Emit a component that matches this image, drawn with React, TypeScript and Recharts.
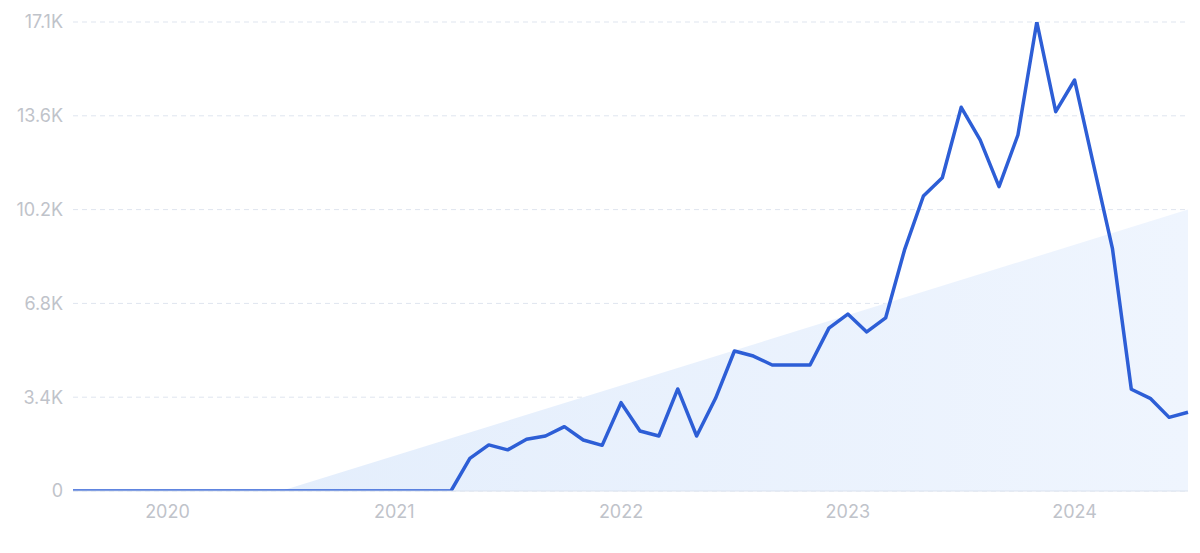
import React from 'react';
import {
  ComposedChart,
  Line,
  Area,
  XAxis,
  YAxis,
  CartesianGrid,
} from 'recharts';

// monthly points, Aug 2019 .. Jul 2024
const months = [
  '2019-08', '2019-09', '2019-10', '2019-11', '2019-12',
  '2020-01', '2020-02', '2020-03', '2020-04', '2020-05', '2020-06',
  '2020-07', '2020-08', '2020-09', '2020-10', '2020-11', '2020-12',
  '2021-01', '2021-02', '2021-03', '2021-04', '2021-05', '2021-06',
  '2021-07', '2021-08', '2021-09', '2021-10', '2021-11', '2021-12',
  '2022-01', '2022-02', '2022-03', '2022-04', '2022-05', '2022-06',
  '2022-07', '2022-08', '2022-09', '2022-10', '2022-11', '2022-12',
  '2023-01', '2023-02', '2023-03', '2023-04', '2023-05', '2023-06',
  '2023-07', '2023-08', '2023-09', '2023-10', '2023-11', '2023-12',
  '2024-01', '2024-02', '2024-03', '2024-04', '2024-05', '2024-06',
  '2024-07',
];

const searches = [
  0, 0, 0, 0, 0,
  0, 0, 0, 0, 0, 0,
  0, 0, 0, 0, 0, 0,
  0, 0, 0, 0, 1190, 1680,
  1500, 1885, 2005, 2345, 1860, 1665,
  3220, 2190, 2005, 3720, 2005, 3380,
  5105, 4920, 4595, 4595, 4595, 5940,
  6450, 5800, 6310, 8790, 10755, 11420,
  13990, 12800, 11095, 12980, 17100, 13830,
  14985, 11900, 8850, 3710, 3380, 2685,
  2870,
];

// trend line endpoints (null elsewhere, joined with connectNulls)
const trendStartMonth = '2020-07';
const trendStartValue = 0;
const trendEndMonth = '2024-07';
const trendEndValue = 10260;

const yTicks = [0, 3420, 6840, 10260, 13680, 17100];
const yTickLabels = ['0', '3.4K', '6.8K', '10.2K', '13.6K', '17.1K'];
const xTicks = ['2020-01', '2021-01', '2022-01', '2023-01', '2024-01'];
const xTickLabels = ['2020', '2021', '2022', '2023', '2024'];

const data = months.map((m, i) => ({
  month: m,
  value: searches[i],
  trend:
    m === trendStartMonth ? trendStartValue : m === trendEndMonth ? trendEndValue : null,
}));

const tickStyle = { fill: '#bfc3ca', fontSize: 18, fontFamily: 'Inter, sans-serif' };

export default function App() {
  return (
    <div style={{ position: 'absolute', left: 0, top: 0, width: 1200, height: 553, background: '#fff' }}>
      <ComposedChart
        width={1200}
        height={553}
        data={data}
        margin={{ top: 22, right: 12, bottom: 0, left: 0 }}
      >
        <defs>
          <linearGradient id="trendFill" x1="0" y1="0" x2="1" y2="0">
            <stop offset="0%" stopColor="#e4eefc" />
            <stop offset="100%" stopColor="#eff5fe" />
          </linearGradient>
        </defs>
        <CartesianGrid vertical={false} stroke="#dfe5ef" strokeDasharray="5 4" />
        <XAxis
          dataKey="month"
          ticks={xTicks}
          tickFormatter={(v: string) => xTickLabels[xTicks.indexOf(v)]}
          tick={tickStyle}
          tickSize={0}
          tickMargin={14}
          height={62}
          axisLine={{ stroke: '#dbe2ee' }}
          interval={0}
        />
        <YAxis
          domain={[0, 17100]}
          ticks={yTicks}
          tickFormatter={(v: number) => yTickLabels[yTicks.indexOf(v)]}
          tick={tickStyle}
          tickSize={0}
          tickMargin={10}
          width={73}
          axisLine={false}
          allowDataOverflow
        />
        <Area
          dataKey="trend"
          type="linear"
          connectNulls
          stroke="none"
          fill="url(#trendFill)"
          fillOpacity={1}
          isAnimationActive={false}
        />
        <Line
          dataKey="value"
          type="linear"
          stroke="#2d5ed6"
          strokeWidth={3.5}
          strokeLinejoin="round"
          dot={false}
          activeDot={false}
          isAnimationActive={false}
        />
      </ComposedChart>
    </div>
  );
}
